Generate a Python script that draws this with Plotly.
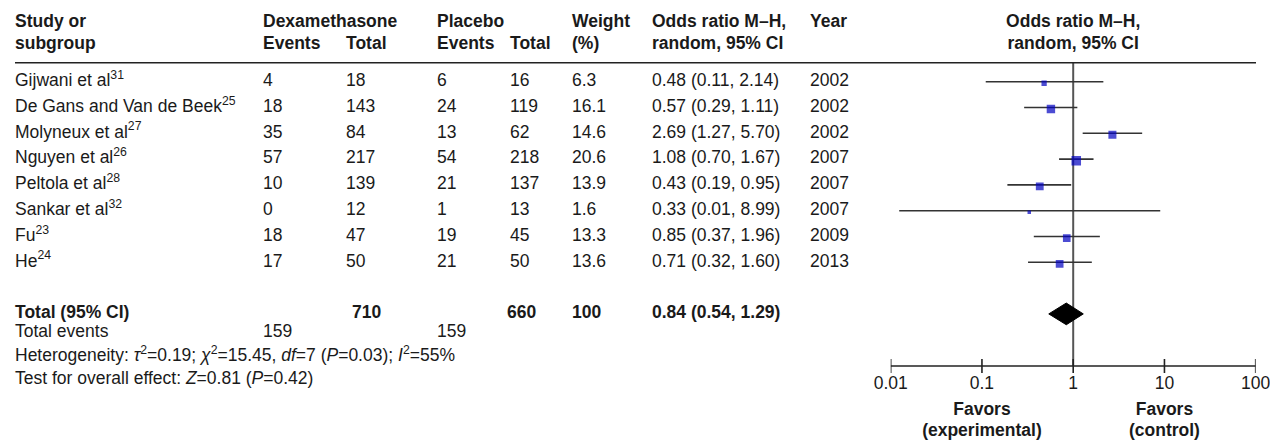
import plotly.graph_objects as go

# ---------------- data ----------------
studies = ["Gijwani et al<sup>31</sup>", "De Gans and Van de Beek<sup>25</sup>",
           "Molyneux et al<sup>27</sup>", "Nguyen et al<sup>26</sup>",
           "Peltola et al<sup>28</sup>", "Sankar et al<sup>32</sup>",
           "Fu<sup>23</sup>", "He<sup>24</sup>"]
dex_events = [4, 18, 35, 57, 10, 0, 18, 17]
dex_total = [18, 143, 84, 217, 139, 12, 47, 50]
pla_events = [6, 24, 13, 54, 21, 1, 19, 21]
pla_total = [16, 119, 62, 218, 137, 13, 45, 50]
weights = [6.3, 16.1, 14.6, 20.6, 13.9, 1.6, 13.3, 13.6]
odds = [0.48, 0.57, 2.69, 1.08, 0.43, 0.33, 0.85, 0.71]
ci_low = [0.11, 0.29, 1.27, 0.70, 0.19, 0.0124, 0.37, 0.32]
ci_high = [2.14, 1.11, 5.70, 1.67, 0.95, 8.99, 1.96, 1.60]
years = [2002, 2002, 2002, 2007, 2007, 2007, 2009, 2013]

total_label = "Total (95% CI)"
total_dex_n = 710
total_pla_n = 660
total_weight = 100
total_or = 0.84
total_low = 0.54
total_high = 1.29
total_dex_events = 159
total_pla_events = 159

heterogeneity = ("Heterogeneity: <i>τ</i><sup>2</sup>=0.19; <i>χ</i><sup>2</sup>=15.45, "
                 "<i>df</i>=7 (<i>P</i>=0.03); <i>I</i><sup>2</sup>=55%")
overall = "Test for overall effect: <i>Z</i>=0.81 (<i>P</i>=0.42)"

tick_vals = [0.01, 0.1, 1, 10, 100]
tick_labels = ["0.01", "0.1", "1", "10", "100"]

header_line1 = ["Study or", "Dexamethasone", "", "Placebo", "", "Weight", "Odds ratio M–H,", "Year"]
header_line2 = ["subgroup", "Events", "Total", "Events", "Total", "(%)", "random, 95% CI", ""]
forest_header = ["Odds ratio M–H,", "random, 95% CI"]
favors_line1 = ["Favors", "Favors"]
favors_line2 = ["(experimental)", "(control)"]

# ---------------- layout constants ----------------
# the page body has an 8px margin, so the figure covers reference pixels 8..1278 x 8..447
OFF = 8
W, H = 1278, 447
FONT = "Liberation Sans, Arial, Helvetica, sans-serif"
FS = 17.5
TXT = "#1a1a1a"
ROW0, PITCH = 81.7, 25.8


def row(px):
    return (px - ROW0) / PITCH


col_x = [15, 263, 346, 437, 510, 572, 652, 810]

fig = go.Figure()


def text_col(x, ys, texts, bold=False, xaxis="x", pos="middle right"):
    t = [f"<b>{s}</b>" if bold else str(s) for s in texts]
    xs = x if isinstance(x, list) else [x] * len(ys)
    fig.add_trace(go.Scatter(x=xs, y=ys, text=t, mode="text",
                             textposition=pos, xaxis=xaxis, yaxis="y",
                             textfont=dict(family=FONT, size=FS, color=TXT),
                             cliponaxis=False, hoverinfo="skip", showlegend=False))


rows = list(range(len(studies)))
or_text = [f"{o:.2f} ({l:.2f}, {h:.2f})" for o, l, h in zip(odds, ci_low, ci_high)]
columns = [studies, dex_events, dex_total, pla_events, pla_total,
           [f"{w:.1f}" for w in weights], or_text, years]
for cx, vals in zip(col_x, columns):
    text_col(cx, rows, vals)

# headers (two lines)
h1 = [(c, t) for c, t in zip(col_x, header_line1) if t]
h2 = [(c, t) for c, t in zip(col_x, header_line2) if t]
text_col([c for c, _ in h1], [row(23)] * len(h1), [t for _, t in h1], bold=True)
text_col([c for c, _ in h2], [row(44.5)] * len(h2), [t for _, t in h2], bold=True)

# total row
trow = 9
text_col(col_x[0], [trow], [total_label], bold=True)
text_col(352, [trow], [total_dex_n], bold=True)
text_col(col_x[4] - 3, [trow], [total_pla_n], bold=True)
text_col(col_x[5], [trow], [total_weight], bold=True)
text_col(col_x[6], [trow], [f"{total_or:.2f} ({total_low:.2f}, {total_high:.2f})"], bold=True)

# total events & footer
text_col(col_x[0], [row(333)], ["Total events"])
text_col(col_x[1], [row(333)], [total_dex_events])
text_col(col_x[3], [row(333)], [total_pla_events])
text_col(col_x[0], [row(356.7)], [heterogeneity])
text_col(col_x[0], [row(380)], [overall])

# ---------------- forest plot ----------------
rule_row = row(62.7)
axis_row = row(366)

# vertical line of no effect
fig.add_trace(go.Scatter(x=[1, 1], y=[rule_row, axis_row], mode="lines", xaxis="x2", yaxis="y",
                         line=dict(color="#555555", width=2), hoverinfo="skip", showlegend=False))

# CI lines
cx_, cy_ = [], []
for r, lo, hi in zip(rows, ci_low, ci_high):
    cx_ += [lo, hi, None]
    cy_ += [r, r, None]
fig.add_trace(go.Scatter(x=cx_, y=cy_, mode="lines", xaxis="x2", yaxis="y",
                         line=dict(color="#333333", width=1.6), hoverinfo="skip", showlegend=False))

# squares
sizes = [max(3.5, 2.1 * w ** 0.5) for w in weights]
fig.add_trace(go.Scatter(x=odds, y=[r + 0.06 for r in rows], mode="markers", xaxis="x2", yaxis="y",
                         marker=dict(symbol="square", size=sizes, color="#0000c0",
                                     line=dict(width=0)),
                         hoverinfo="skip", showlegend=False))

# diamond
dh = 0.42
fig.add_trace(go.Scatter(x=[total_low, total_or, total_high, total_or, total_low],
                         y=[trow, trow - dh, trow, trow + dh, trow],
                         mode="lines", fill="toself", fillcolor="#000000",
                         line=dict(color="#000000", width=1), xaxis="x2", yaxis="y",
                         hoverinfo="skip", showlegend=False))

# axis line and ticks
ax_x = [tick_vals[0], tick_vals[-1], None]
ax_y = [axis_row, axis_row, None]
tl = 7 / PITCH
for tv in tick_vals:
    ax_x += [tv, tv, None]
    ax_y += [axis_row - tl, axis_row + tl, None]
fig.add_trace(go.Scatter(x=ax_x, y=ax_y, mode="lines", xaxis="x2", yaxis="y",
                         line=dict(color="#222222", width=1.6), hoverinfo="skip", showlegend=False))

text_col(tick_vals, [row(385)] * len(tick_vals), tick_labels, xaxis="x2", pos="middle center")

# forest header and favors labels
text_col([1], [row(23)], [forest_header[0]], bold=True, xaxis="x2", pos="middle center")
text_col([1], [row(44.5)], [forest_header[1]], bold=True, xaxis="x2", pos="middle center")
text_col([0.1, 10], [row(411)] * 2, favors_line1, bold=True, xaxis="x2", pos="middle center")
text_col([0.1, 10], [row(432)] * 2, favors_line2, bold=True, xaxis="x2", pos="middle center")

# header rule
fig.add_shape(type="line", xref="x", yref="y", x0=15, x1=1256, y0=rule_row, y1=rule_row,
              line=dict(color="#222222", width=1.6))

FW, FH = W - OFF, H - OFF
fig.update_layout(
    width=FW, height=FH, margin=dict(l=0, r=0, t=0, b=0),
    paper_bgcolor="white", plot_bgcolor="white", showlegend=False,
    xaxis=dict(range=[OFF, W], domain=[0, 1], visible=False, fixedrange=True),
    yaxis=dict(range=[row(H), row(OFF)], domain=[0, 1], visible=False, fixedrange=True),
    xaxis2=dict(type="log", range=[-2, 2],
                domain=[(890.7 - OFF) / FW, (1255.7 - OFF) / FW], anchor="y",
                visible=False, fixedrange=True),
)

fig.write_html("out.html", config={"displayModeBar": False})
